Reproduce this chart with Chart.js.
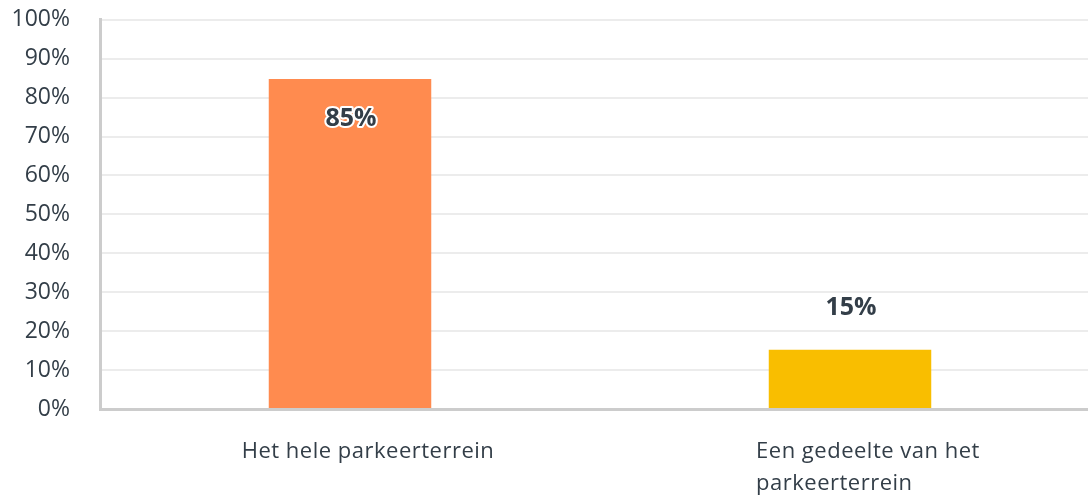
<!DOCTYPE html>
<html><head><meta charset="utf-8">
<script src="https://cdn.jsdelivr.net/npm/chart.js@4.4.1/dist/chart.umd.min.js"></script>
<style>
html,body{margin:0;padding:0;background:#fff;overflow:hidden;}
#wrap{width:1100px;height:519px;position:relative;margin-top:-24px;}
</style></head>
<body><div id="wrap"><canvas id="c"></canvas></div>
<script>
const categories = [["Het hele parkeerterrein"], ["Een gedeelte van het", "parkeerterrein"]];
const values = [84.8, 15.2];
const valueLabels = ["85%", "15%"];
const barColors = ["#FF8B4F", "#F9BE00"];
const yTicks = [0,10,20,30,40,50,60,70,80,90,100];

const textColor = "#333e48";

const labelPlugin = {
  id: 'labels',
  afterDatasetsDraw(chart) {
    const ctx = chart.ctx;
    const meta = chart.getDatasetMeta(0);
    const xs = chart.scales.x;
    ctx.save();
    ctx.font = "bold 25px 'Open Sans'";
    ctx.textAlign = "center";
    ctx.textBaseline = "middle";
    meta.data.forEach((bar, i) => {
      let y;
      if (values[i] > 50) y = bar.y + 40; else y = bar.y - 42;
      if (values[i] > 50) {
        ctx.lineWidth = 4; ctx.strokeStyle = "#fff"; ctx.lineJoin = "round";
        ctx.strokeText(valueLabels[i], bar.x + 1, y);
      }
      ctx.fillStyle = textColor;
      ctx.fillText(valueLabels[i], bar.x + 1, y);
    });
    ctx.font = "22px 'Open Sans'";
    ctx.letterSpacing = "0.5px";
    ctx.textAlign = "left";
    ctx.fillStyle = textColor;
    categories.forEach((lines, i) => {
      const cx = xs.getPixelForValue(i) + 18;
      let w = 0;
      lines.forEach(l => { w = Math.max(w, ctx.measureText(l).width); });
      lines.forEach((l, j) => {
        ctx.fillText(l, cx - w / 2, xs.bottom + 43 + j * 32);
      });
    });
    ctx.restore();
  }
};

new Chart(document.getElementById('c'), {
  type: 'bar',
  data: {
    labels: categories,
    datasets: [{
      data: values,
      backgroundColor: barColors,
      borderWidth: 0,
      barPercentage: 0.325,
      categoryPercentage: 1
    }]
  },
  options: {
    responsive: true,
    maintainAspectRatio: false,
    animation: false,
    layout: { padding: { left: 10, top: 10, right: 0, bottom: 86 } },
    plugins: { legend: { display: false }, tooltip: { enabled: false } },
    scales: {
      x: {
        grid: { display: false, drawTicks: false },
        border: { display: true, color: "#cccccc", width: 3 },
        ticks: { display: false }
      },
      y: {
        min: 0, max: 100,
        afterBuildTicks(scale) { scale.ticks = yTicks.map(v => ({ value: v })); },
        afterFit(scale) { scale.width = 90; },
        grid: { color: "#ececec", lineWidth: 2, drawTicks: false },
        border: { display: true, color: "#cccccc", width: 3 },
        ticks: {
          padding: 30,
          color: textColor,
          font: { family: "'Open Sans'", size: 23 },
          callback: v => v + "%"
        }
      }
    }
  },
  plugins: [labelPlugin]
});
</script></body></html>
